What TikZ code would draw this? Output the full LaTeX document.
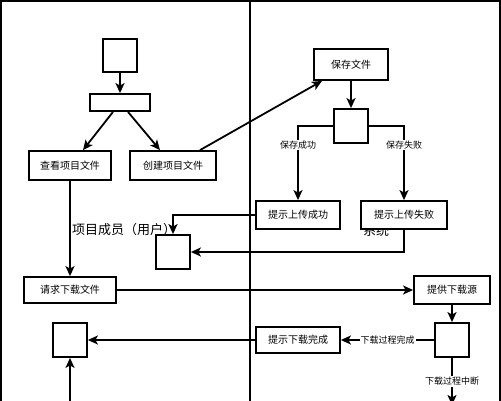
\documentclass[tikz,border=0pt]{standalone}
\usepackage{fontspec}
\newfontfamily\cjk{Noto Sans CJK SC}
\usepackage{tikz}
\usetikzlibrary{arrows.meta,positioning,calc}

\begin{document}
\begin{tikzpicture}[
  x=1pt,y=-1pt,
  lane/.style={line width=1.8pt},
  box/.style={draw,line width=1.8pt,fill=white,minimum width=84pt,minimum height=28pt,inner sep=0pt,align=center,font=\cjk\fontsize{10}{12}\selectfont},
  sq/.style={draw,line width=1.8pt,fill=white,minimum width=34pt,minimum height=34pt,inner sep=0pt},
  lbl/.style={fill=white,inner sep=1pt,font=\cjk\fontsize{9}{11}\selectfont},
  title/.style={font=\cjk\fontsize{13}{15}\selectfont},
  arr/.style={-{Stealth[length=10pt,width=9pt,inset=2.5pt]},line width=1.8pt}
]
  \clip (0,0) rectangle (501,400);
  % swimlanes
  \draw[lane] (1,1) rectangle (500,430);
  \draw[lane] (250,1) -- (250,430);
  \node[title] (tuser) at (124,230) {项目成员（用户）};
  \node[title] (tsys) at (376,231) {系统};

  % user side
  \node[sq, minimum height=33pt] (start) at (120,55.5) {};
  \node[box, minimum width=60pt, minimum height=17pt] (bar) at (120,102.5) {};
  \node[box, minimum width=82pt, minimum height=29pt] (view) at (70,165.5) {查看项目文件};
  \node[box, minimum width=86pt, minimum height=29pt] (create) at (173,165.5) {创建项目文件};
  \node[sq] (usrsq) at (173,252) {};
  \node[box, minimum width=92pt, minimum height=26pt] (reqdl) at (70,290) {请求下载文件};
  \node[sq] (usrsq2) at (70,340) {};

  % system side
  \node[box, minimum width=74pt, minimum height=31pt] (save) at (351,64.5) {保存文件};
  \node[sq] (savedec) at (351,126) {};
  \node[box] (upok) at (298,215) {提示上传成功};
  \node[box, minimum width=86pt] (upfail) at (404,215) {提示上传失败};
  \node[box, minimum width=76pt] (provide) at (452,290) {提供下载源};
  \node[sq] (dldec) at (452,340) {};
  \node[box, minimum height=26pt] (dldone) at (298,340) {提示下载完成};

  \coordinate (inbot) at (70,404);
  \coordinate (outbot) at (452,405);

  \draw[arr] (start) -- (bar);
  \draw[arr] ([xshift=-7pt]bar.south) -- ([xshift=13pt]view.north);
  \draw[arr] ([xshift=8pt]bar.south) -- ([xshift=-13pt]create.north);
  \draw[arr] ([xshift=27pt]create.north) -- ([xshift=-29pt]save.south);
  \draw[arr] (save) -- (savedec);
  \draw[arr] (savedec.west) -| (upok.north) node[lbl,pos=0.63] {保存成功};
  \draw[arr] (savedec.east) -| (upfail.north) node[lbl,pos=0.63] {保存失败};
  \draw[arr] (upok.west) -| (usrsq.north);
  \draw[arr] (upfail.south) |- (usrsq.east);
  \draw[arr] (view) -- (reqdl);
  \draw[arr] (reqdl) -- (provide);
  \draw[arr] (provide) -- (dldec);
  \draw[arr] (dldec.west) -- (dldone.east) node[lbl,midway] {下载过程完成};
  \draw[arr] (dldone) -- (usrsq2);
  \draw[arr] (inbot) -- (usrsq2.south);
  \draw[arr] (dldec.south) -- (outbot) node[lbl,pos=0.5] {下载过程中断};
\end{tikzpicture}
\end{document}
